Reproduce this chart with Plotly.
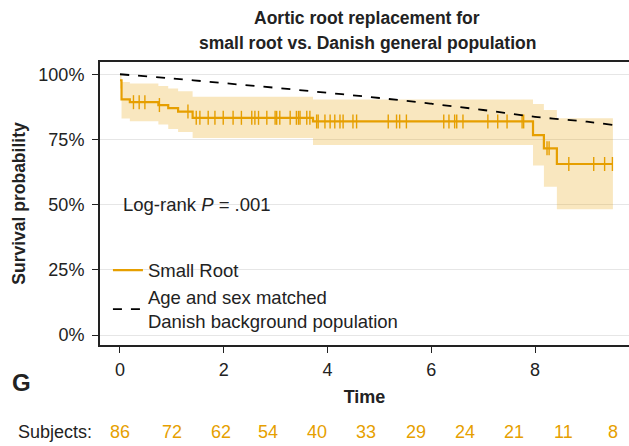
import numpy as np
import plotly.graph_objects as go

# Kaplan-Meier estimate, small root group
km_time = [0, 0.03, 0.19, 0.74, 0.93, 1.12, 1.4, 3.72, 7.96, 8.17, 8.42, 9.5]
km_surv = [0.977, 0.904, 0.893, 0.882, 0.870, 0.857, 0.833, 0.819, 0.767, 0.716, 0.656, 0.656]
km_upper = [1.0, 0.970, 0.965, 0.955, 0.945, 0.935, 0.914, 0.903, 0.886, 0.863, 0.831, 0.831]
km_lower = [0.945, 0.830, 0.820, 0.807, 0.790, 0.779, 0.756, 0.729, 0.650, 0.569, 0.482, 0.482]

# censoring times
censor_time = [0.26, 0.37, 0.48, 0.76, 1.31,
               1.47, 1.54, 1.70, 1.83, 1.99, 2.18, 2.34, 2.54, 2.60, 2.67, 2.83,
               2.99, 3.02, 3.08, 3.28, 3.40, 3.44, 3.47, 3.60, 3.66,
               3.79, 3.82, 3.95, 4.05, 4.14, 4.24, 4.30, 4.49, 4.56,
               5.17, 5.33, 5.39, 5.52, 6.24, 6.34, 6.45, 6.49, 6.61,
               7.09, 7.28, 7.46, 7.75, 7.78, 8.23, 8.27, 8.65, 9.13, 9.34, 9.49]

# expected survival of matched background population
pop_time = [0, 1, 2, 3, 4, 5, 6, 7, 8, 9, 9.5]
pop_surv = [1.0, 0.984, 0.966, 0.948, 0.929, 0.909, 0.887, 0.863, 0.837, 0.818, 0.806]

# number at risk
risk_time = [0, 1.0, 1.95, 2.85, 3.8, 4.75, 5.7, 6.65, 7.6, 8.55, 9.5]
risk_n = [86, 72, 62, 54, 40, 33, 29, 24, 21, 11, 8]

orange = "#E69F00"
band = "rgba(230,159,0,0.25)"
font = "Liberation Sans, Arial, sans-serif"
ink = "#222"

idx = np.searchsorted(km_time, censor_time, side="right") - 1
censor_surv = [km_surv[i] for i in idx]

fig = go.Figure()
fig.add_trace(go.Scatter(x=km_time, y=km_lower, mode="lines", line=dict(width=0, shape="hv"),
                         showlegend=False, hoverinfo="skip"))
fig.add_trace(go.Scatter(x=km_time, y=km_upper, mode="lines", line=dict(width=0, shape="hv"),
                         fill="tonexty", fillcolor=band, showlegend=False, hoverinfo="skip"))
fig.add_trace(go.Scatter(x=km_time, y=km_surv, mode="lines", name="Small Root",
                         line=dict(color=orange, width=2.2, shape="hv")))
fig.add_trace(go.Scatter(x=censor_time, y=censor_surv, mode="markers", showlegend=False,
                         marker=dict(symbol="line-ns", size=10, line=dict(color=orange, width=1.4))))
fig.add_trace(go.Scatter(x=pop_time, y=pop_surv, mode="lines",
                         name="Age and sex matched<br>Danish background population",
                         line=dict(color="black", width=1.8, dash="dash", shape="spline")))

# title, two lines
fig.add_annotation(x=0.505, y=1.155, xref="paper", yref="paper", text="<b>Aortic root replacement for</b>",
                   showarrow=False, xanchor="center", yanchor="middle", font=dict(size=17.5, color=ink))
fig.add_annotation(x=0.505, y=1.067, xref="paper", yref="paper",
                   text="<b>small root vs. Danish general population</b>",
                   showarrow=False, xanchor="center", yanchor="middle", font=dict(size=17.5, color=ink))

fig.add_annotation(x=0.02, y=0.5, xref="x", yref="y", text="Log-rank <i>P</i> = .001",
                   showarrow=False, xanchor="left", font=dict(size=18.5, color=ink))
fig.add_annotation(x=-0.17, y=-0.079, xref="paper", yref="paper", text="<b>G</b>",
                   showarrow=False, xanchor="left", yanchor="top", font=dict(size=24, color=ink))
fig.add_annotation(x=-0.012, y=-0.349, xref="paper", yref="paper", text="Subjects:",
                   showarrow=False, xanchor="right", font=dict(size=18, color=ink))
for t, n in zip(risk_time, risk_n):
    fig.add_annotation(x=t, y=-0.349, xref="x", yref="paper", text=str(n),
                       showarrow=False, xanchor="center", font=dict(size=18, color=orange))

fig.update_layout(
    width=629, height=446,
    margin=dict(l=100, r=0, t=62, b=101),
    paper_bgcolor="white", plot_bgcolor="white",
    font=dict(family=font, size=18, color=ink),
    legend=dict(x=0.015, y=0.33, xanchor="left", yanchor="top", bgcolor="rgba(0,0,0,0)",
                font=dict(size=18.5), traceorder="normal", tracegroupgap=0, itemwidth=30),
)
fig.update_xaxes(range=[-0.385, 9.81], tickvals=[0, 2, 4, 6, 8], showgrid=False, zeroline=False,
                 showline=True, linecolor=ink, linewidth=2, mirror=True,
                 ticks="outside", ticklen=6, tickcolor=ink, ticklabelstandoff=1,
                 title=dict(text="<b>Time</b>", font=dict(size=18), standoff=12))
fig.update_yaxes(range=[-0.038, 1.047], tickvals=[0, 0.25, 0.5, 0.75, 1.0], tickformat=".0%",
                 showgrid=True, gridcolor="#e6e6e6", gridwidth=1, zeroline=False,
                 showline=True, linecolor=ink, linewidth=2,
                 ticks="outside", ticklen=6, tickcolor=ink, ticklabelstandoff=4,
                 title=dict(text="<b>Survival probability</b>", font=dict(size=17.5), standoff=8))

fig.write_html("out.html", config={"displayModeBar": False},
               post_script="document.body.style.margin='0';")
